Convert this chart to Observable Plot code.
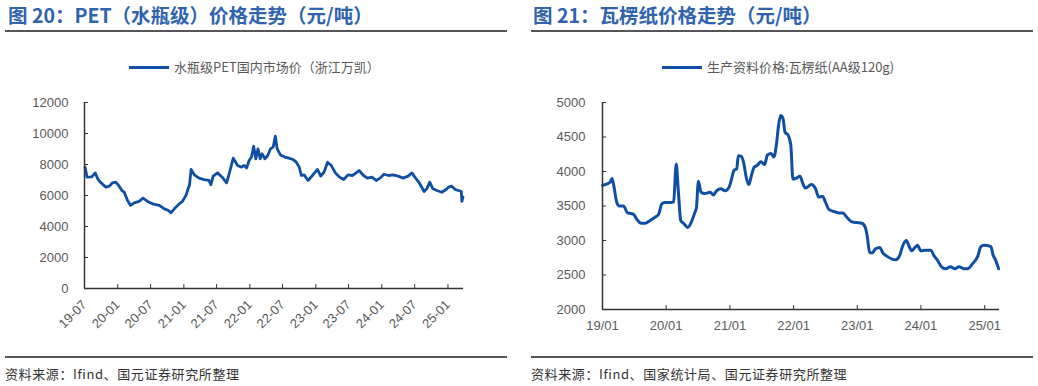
<!DOCTYPE html>
<html><head><meta charset="utf-8">
<script src="https://cdn.jsdelivr.net/npm/d3@7"></script>
<script src="https://cdn.jsdelivr.net/npm/@observablehq/plot@0.6"></script>
<style>
body{margin:0;background:#fff;}
#root{position:relative;width:1038px;height:386px;overflow:hidden;font-family:"Liberation Sans",Arial,sans-serif;}
.title{position:absolute;top:5px;font:bold 19.5px/1 "Noto Sans CJK SC","Liberation Sans",sans-serif;color:#2F63AE;white-space:nowrap;}
.hr{position:absolute;height:2px;background:#555;}
.legend{position:absolute;top:59px;height:16px;font:13px/16px "Noto Sans CJK SC","Liberation Sans",sans-serif;color:#595959;display:flex;align-items:center;white-space:nowrap;}
.legend .sw{display:inline-block;width:40px;height:3px;background:#0E4FA3;margin-right:5px;}
.src{position:absolute;top:366px;font:13px/16px "Noto Sans CJK SC","Liberation Sans",sans-serif;letter-spacing:0.6px;color:#333;white-space:nowrap;}
.chart{position:absolute;top:90px;}
</style></head>
<body>
<div id="root">
  <div class="title" style="left:8px">图 20：PET（水瓶级）价格走势（元/吨）</div>
  <div class="hr" style="left:5px;width:502px;top:30px"></div>
  <div class="legend" style="left:129px"><span class="sw"></span>水瓶级PET国内市场价（浙江万凯）</div>
  <div class="chart" id="c1" style="left:0px"></div>
  <div class="hr" style="left:5px;width:502px;top:356px"></div>
  <div class="src" style="left:5px">资料来源：Ifind、国元证券研究所整理</div>

  <div class="title" style="left:533px">图 21：瓦楞纸价格走势（元/吨）</div>
  <div class="hr" style="left:531px;width:502px;top:30px"></div>
  <div class="legend" style="left:662px"><span class="sw"></span>生产资料价格:瓦楞纸(AA级120g)</div>
  <div class="chart" id="c2" style="left:520px"></div>
  <div class="hr" style="left:531px;width:502px;top:356px"></div>
  <div class="src" style="left:531px">资料来源：Ifind、国家统计局、国元证券研究所整理</div>
</div>
<script>
// ---- Figure 20: PET bottle-grade price (yuan/ton)
const petDates = ["2019-07-04","2019-07-15","2019-08-10","2019-08-29","2019-09-12","2019-09-30","2019-10-27","2019-11-15","2019-12-03","2019-12-21",
"2020-01-06","2020-01-24","2020-02-06","2020-02-24","2020-03-12","2020-04-01","2020-04-28","2020-05-20","2020-06-14","2020-07-11","2020-08-18","2020-09-15","2020-10-08","2020-10-21","2020-11-09","2020-12-06","2020-12-24",
"2021-01-12","2021-02-01","2021-02-10","2021-02-28","2021-03-26","2021-04-23","2021-05-20","2021-05-30","2021-06-12","2021-07-06","2021-08-01","2021-08-25","2021-09-06","2021-10-01","2021-10-25","2021-11-15","2021-12-01","2021-12-14","2021-12-28",
"2022-01-10","2022-01-22","2022-02-03","2022-02-15","2022-02-27","2022-03-10","2022-03-25","2022-04-10","2022-04-25","2022-05-10","2022-05-22","2022-06-01","2022-06-19","2022-07-13","2022-08-04","2022-08-28","2022-09-15","2022-10-01","2022-10-13","2022-10-28","2022-11-19","2022-12-13",
"2023-01-10","2023-01-28","2023-02-15","2023-03-07","2023-03-27","2023-04-19","2023-05-13","2023-06-04","2023-06-28","2023-07-22","2023-08-04","2023-08-28","2023-09-22","2023-10-13","2023-11-07","2023-12-01","2023-12-22",
"2024-01-13","2024-02-07","2024-03-04","2024-04-01","2024-04-28","2024-05-25","2024-06-16","2024-07-02","2024-07-26","2024-08-22","2024-09-06","2024-09-22","2024-10-10","2024-11-01","2024-11-28","2024-12-22",
"2025-01-04","2025-01-22","2025-02-10","2025-02-28","2025-03-16","2025-03-19","2025-03-25"];
const petValues = [7830,7180,7200,7460,7080,6820,6540,6600,6820,6860,
6650,6320,6210,5680,5360,5530,5620,5830,5620,5460,5360,5140,5030,4880,5140,5460,5620,
6000,6690,7680,7330,7120,7030,6970,6690,7250,7460,7180,6820,7290,8410,7940,7830,7940,7770,8260,
8480,9180,8370,9010,8370,8690,8370,8580,9010,9120,9830,9010,8620,8480,8410,8320,8150,7830,7290,7330,6970,7290,
7680,7250,7500,8150,7940,7460,7180,7030,7330,7290,7400,7610,7290,7120,7180,6970,7120,
7370,7290,7330,7250,7120,7250,7460,7180,6820,6260,6430,6860,6430,6320,6210,6390,
6540,6600,6390,6320,6260,5620,5890];
const petYTicks = [0,2000,4000,6000,8000,10000,12000];
const petXTicks = ["2019-07","2020-01","2020-07","2021-01","2021-07","2022-01","2022-07","2023-01","2023-07","2024-01","2024-07","2025-01"];
const petXDomain = ["2019-07-01","2025-03-28"];

// ---- Figure 21: corrugated paper price (yuan/ton)
const paperDates = ["2019-01-02","2019-01-27","2019-02-15","2019-02-24","2019-03-04","2019-03-24","2019-04-07","2019-05-01","2019-05-25","2019-06-28","2019-07-16","2019-08-10","2019-09-03","2019-10-01","2019-10-25","2019-11-19","2019-12-07","2019-12-25",
"2020-01-25","2020-02-13","2020-02-28","2020-03-10","2020-03-25","2020-04-13","2020-05-04","2020-05-25","2020-06-13","2020-06-23","2020-07-04","2020-07-19","2020-08-10","2020-09-10","2020-09-28","2020-10-16","2020-11-10","2020-12-04","2020-12-27",
"2021-01-10","2021-01-25","2021-02-09","2021-02-18","2021-03-07","2021-03-22","2021-04-04","2021-04-19","2021-05-04","2021-05-19","2021-06-07","2021-06-28","2021-07-19","2021-08-04","2021-08-25","2021-09-10","2021-09-24","2021-10-07","2021-10-19","2021-11-01","2021-11-13","2021-11-30","2021-12-16","2021-12-28",
"2022-01-13","2022-02-07","2022-02-21","2022-03-10","2022-04-13","2022-05-07","2022-05-25","2022-06-16","2022-07-04","2022-07-22","2022-08-20","2022-09-16","2022-10-11","2022-11-01","2022-12-01","2022-12-28",
"2023-01-28","2023-02-16","2023-02-27","2023-03-13","2023-03-28","2023-04-16","2023-05-10","2023-05-28","2023-06-22","2023-07-20","2023-08-10","2023-09-01","2023-09-20","2023-10-10","2023-10-25","2023-11-10","2023-11-28","2023-12-13",
"2024-01-01","2024-01-28","2024-02-27","2024-03-16","2024-04-04","2024-04-28","2024-05-22","2024-06-19","2024-07-14","2024-08-07","2024-09-05","2024-09-25","2024-10-22","2024-11-22","2024-12-10","2024-12-28",
"2025-02-06","2025-02-18","2025-03-04","2025-03-22"];
const paperValues = [3800,3820,3850,3900,3830,3550,3500,3500,3400,3380,3310,3250,3250,3290,3330,3380,3530,3550,
3550,3560,4110,3750,3290,3240,3190,3270,3400,3480,3860,3700,3680,3700,3660,3720,3750,3720,3770,
3890,4020,4040,4230,4220,4110,3920,3810,3940,4060,4090,4140,4100,4240,4260,4210,4380,4670,4810,4770,4570,4530,4380,3890,
3900,3930,3840,3760,3810,3750,3630,3640,3550,3450,3420,3400,3400,3340,3270,3260,
3250,3190,3070,2830,2820,2880,2900,2820,2770,2730,2720,2780,2930,3000,2920,2850,2900,2930,
2850,2860,2860,2780,2720,2620,2590,2620,2590,2620,2590,2590,2660,2770,2910,2930,
2910,2790,2720,2590];
const paperYTicks = [2000,2500,3000,3500,4000,4500,5000];
const paperXTicks = ["2019-01","2020-01","2021-01","2022-01","2023-01","2024-01","2025-01"];
const paperXDomain = ["2019-01-01","2025-03-27"];

const LINE = "#0E4FA3";
const AXIS = "#333333";
const LABEL = "#595959";
const parse = s => new Date(s + (s.length === 7 ? "-01" : "") + "T00:00:00Z");

const petData = petDates.map((d, i) => ({date: parse(d), value: petValues[i]}));
const paperData = paperDates.map((d, i) => ({date: parse(d), value: paperValues[i]}));

const baseStyle = {fontFamily: "'Liberation Sans', Arial, sans-serif", fontSize: "13px", background: "transparent", overflow: "visible"};

const pet = Plot.plot({
  width: 520, height: 262,
  marginLeft: 84, marginRight: 57, marginTop: 12, marginBottom: 64,
  style: baseStyle,
  x: {type: "utc", domain: petXDomain.map(parse), label: null},
  y: {domain: [0, 12000], label: null},
  marks: [
    Plot.axisY({ticks: petYTicks, tickFormat: d3.format("d"), tickSize: -4, tickPadding: 20, stroke: AXIS, fill: LABEL, label: null}),
    Plot.axisX({ticks: petXTicks.map(parse), tickFormat: d3.utcFormat("%y-%m"), tickRotate: -45, tickSize: -4, tickPadding: 18, stroke: AXIS, fill: LABEL, label: null}),
    Plot.line(petData, {x: "date", y: "value", stroke: LINE, strokeWidth: 2.8, strokeLinejoin: "round"}),
    Plot.ruleX([parse(petXDomain[0])], {stroke: AXIS, strokeWidth: 1.5}),
    Plot.ruleY([0], {stroke: AXIS, strokeWidth: 1.5})
  ]
});
document.getElementById("c1").appendChild(pet);

const paper = Plot.plot({
  width: 518, height: 240,
  marginLeft: 82, marginRight: 39, marginTop: 12, marginBottom: 21,
  style: baseStyle,
  x: {type: "utc", domain: paperXDomain.map(parse), label: null},
  y: {domain: [2000, 5000], label: null},
  marks: [
    Plot.axisY({ticks: paperYTicks, tickFormat: d3.format("d"), tickSize: -4, tickPadding: 21, stroke: AXIS, fill: LABEL, label: null}),
    Plot.axisX({ticks: paperXTicks.map(parse), tickFormat: d3.utcFormat("%y/%m"), tickSize: -4, tickPadding: 15, stroke: AXIS, fill: LABEL, label: null}),
    Plot.line(paperData, {x: "date", y: "value", stroke: LINE, strokeWidth: 3, curve: "monotone-x", strokeLinejoin: "round"}),
    Plot.ruleX([parse(paperXDomain[0])], {stroke: AXIS, strokeWidth: 1.5}),
    Plot.ruleY([2000], {stroke: AXIS, strokeWidth: 1.5})
  ]
});
document.getElementById("c2").appendChild(paper);
</script>
</body></html>
